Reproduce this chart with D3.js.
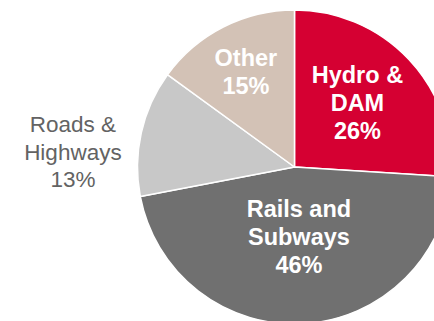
<!DOCTYPE html>
<html>
<head>
<meta charset="utf-8">
<script src="https://cdn.jsdelivr.net/npm/d3@7/dist/d3.min.js"></script>
<style>
  html, body { margin: 0; padding: 0; background: #ffffff; }
  svg { display: block; }
</style>
</head>
<body>
<svg id="chart" width="434" height="321"></svg>
<script>
// Infrastructure spending by segment (share of total, %)
const categories = ["Hydro & DAM", "Rails and Subways", "Roads & Highways", "Other"];
const shares = [26, 46, 13, 15];
const labelLines = [
  ["Hydro &", "DAM", "26%"],
  ["Rails and", "Subways", "46%"],
  ["Roads &", "Highways", "13%"],
  ["Other", "15%"]
];
const sliceColors = ["#d50032", "#707070", "#c8c8c8", "#d3c2b6"];

const width = 434, height = 321;
const cx = 294.5, cy = 167, radius = 157;

// Label placement per slice: radial distance of label centre, extra offsets, text style
const labelStyle = {
  "Hydro & DAM":       { r: 88,  angleShift: -0.02, dx: 0,  dy: -3, fill: "#ffffff", weight: "bold",   size: 23.5 },
  "Rails and Subways": { r: 70,  angleShift: 0.0,   dx: 0,  dy: 0,  fill: "#ffffff", weight: "bold",   size: 23.5 },
  "Roads & Highways":  { r: 222, angleShift: -0.16, dx: 0,  dy: -2, fill: "#636363", weight: "normal", size: 22.5 },
  "Other":             { r: 107, angleShift: 0.0,   dx: 0,  dy: 0,  fill: "#ffffff", weight: "bold",   size: 23.5 }
};
const lineHeight = 27.8;

const data = categories.map((c, i) => ({ category: c, value: shares[i], lines: labelLines[i], color: sliceColors[i] }));

const svg = d3.select("#chart");
const g = svg.append("g").attr("transform", `translate(${cx},${cy})`);

const pie = d3.pie().sort(null).value(d => d.value);
const arc = d3.arc().innerRadius(0).outerRadius(radius);
const arcs = pie(data);

g.selectAll("path.slice")
  .data(arcs)
  .join("path")
  .attr("class", "slice")
  .attr("d", arc)
  .attr("fill", d => d.data.color)
  .attr("stroke", "#ffffff")
  .attr("stroke-width", 1.5)
  .attr("stroke-linejoin", "round");

g.selectAll("text.label")
  .data(arcs)
  .join("text")
  .attr("class", "label")
  .attr("text-anchor", "middle")
  .attr("font-family", "'Liberation Sans', Arial, sans-serif")
  .attr("font-weight", d => labelStyle[d.data.category].weight)
  .attr("font-size", d => labelStyle[d.data.category].size)
  .attr("fill", d => labelStyle[d.data.category].fill)
  .each(function(d) {
    const s = labelStyle[d.data.category];
    const mid = (d.startAngle + d.endAngle) / 2 + s.angleShift;
    const x = Math.sin(mid) * s.r + s.dx;
    const y = -Math.cos(mid) * s.r + s.dy;
    const n = d.data.lines.length;
    const top = y - (n - 1) * lineHeight / 2;
    d3.select(this).selectAll("tspan")
      .data(d.data.lines)
      .join("tspan")
      .attr("x", x)
      .attr("y", (t, i) => top + i * lineHeight)
      .attr("dy", "0.35em")
      .text(t => t);
  });
</script>
</body>
</html>
